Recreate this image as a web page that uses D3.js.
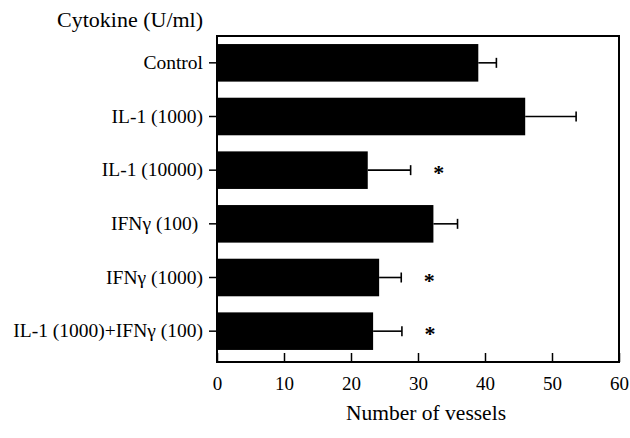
<!DOCTYPE html>
<html>
<head>
<meta charset="utf-8">
<script src="https://cdn.jsdelivr.net/npm/d3@7"></script>
<style>
  body { margin: 0; background: #fff; }
  svg text { font-family: "Liberation Serif", "DejaVu Serif", serif; fill: #000; }
</style>
</head>
<body>
<svg id="chart" width="630" height="438"></svg>
<script>
  // data
  var categories = ["Control", "IL-1 (1000)", "IL-1 (10000)", "IFN\u03b3 (100)\u00a0", "IFN\u03b3 (1000)", "IL-1 (1000)+IFN\u03b3 (100)"];
  var means = [39, 46, 22.5, 32.3, 24.2, 23.3];
  var errors = [2.7, 7.6, 6.4, 3.6, 3.3, 4.3];
  var significant = [false, false, true, false, true, true];
  var xTicks = [0, 10, 20, 30, 40, 50, 60];

  var svg = d3.select("#chart");

  // plot frame (note: "top" is taken by window.top)
  var frameL = 217, frameR = 619, frameT = 36, frameB = 362;

  var x = d3.scaleLinear().domain([0, 60]).range([frameL, frameR]);
  var y = d3.scaleBand().domain(categories).range([frameT, frameB - 4])
    .paddingInner(0.3).paddingOuter(0.15);

  var rows = categories.map(function(c, i) {
    return { name: c, mean: means[i], err: errors[i], sig: significant[i] };
  });

  // bars
  svg.append("g").selectAll("rect")
    .data(rows)
    .enter()
    .append("rect")
    .attr("x", x(0))
    .attr("y", function(d) { return y(d.name); })
    .attr("width", function(d) { return x(d.mean) - x(0); })
    .attr("height", y.bandwidth())
    .attr("fill", "#000");

  // error bars (one sided)
  var eb = svg.append("g").attr("stroke", "#000").attr("stroke-width", 1.6);
  rows.forEach(function(d) {
    var cy = y(d.name) + y.bandwidth() / 2;
    eb.append("line")
      .attr("x1", x(d.mean)).attr("x2", x(d.mean + d.err))
      .attr("y1", cy).attr("y2", cy);
    eb.append("line")
      .attr("x1", x(d.mean + d.err)).attr("x2", x(d.mean + d.err))
      .attr("y1", cy - 5).attr("y2", cy + 5);
  });

  // asterisks
  svg.append("g").selectAll("text")
    .data(rows.filter(function(d) { return d.sig; }))
    .enter()
    .append("text")
    .attr("x", function(d) { return x(d.mean + d.err) + 28; })
    .attr("y", function(d) { return y(d.name) + y.bandwidth() / 2 + 10; })
    .attr("text-anchor", "middle")
    .style("font-size", "22px")
    .style("font-weight", "bold")
    .text("*");

  // x axis: ticks pointing inward
  var xAxis = d3.axisBottom(x).tickValues(xTicks).tickSize(-9).tickPadding(15);
  var gx = svg.append("g").attr("transform", "translate(0," + frameB + ")").call(xAxis);
  gx.select(".domain").remove();
  gx.selectAll("line").attr("stroke", "#000").attr("stroke-width", 1.5);
  gx.selectAll("text").style("font-size", "19px").attr("dy", "0.71em");

  // y axis: ticks pointing outward
  var yAxis = d3.axisLeft(y).tickSize(8).tickPadding(6);
  var gy = svg.append("g").attr("transform", "translate(" + frameL + ",0)").call(yAxis);
  gy.select(".domain").remove();
  gy.selectAll("line").attr("stroke", "#000").attr("stroke-width", 1.5);
  gy.selectAll("text").style("font-size", "19.5px");

  // frame
  svg.append("rect")
    .attr("x", frameL).attr("y", frameT)
    .attr("width", frameR - frameL).attr("height", frameB - frameT)
    .attr("fill", "none").attr("stroke", "#000").attr("stroke-width", 2);

  // titles
  svg.append("text")
    .attr("x", 57).attr("y", 27)
    .style("font-size", "22px")
    .text("Cytokine (U/ml)");

  svg.append("text")
    .attr("x", (frameL + frameR) / 2 + 8).attr("y", 420)
    .attr("text-anchor", "middle")
    .style("font-size", "21.5px")
    .text("Number of vessels");
</script>
</body>
</html>
